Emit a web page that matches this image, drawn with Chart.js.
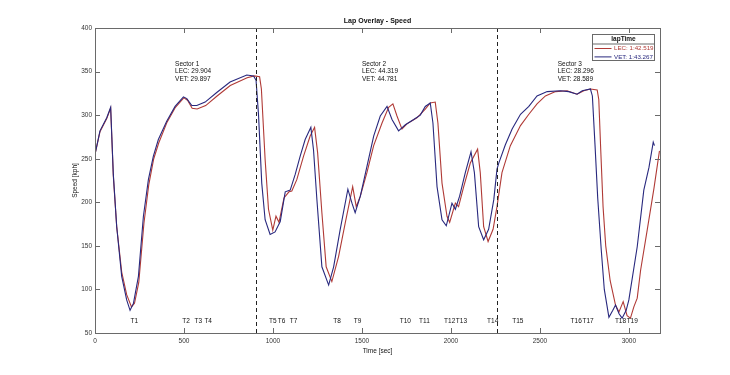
<!DOCTYPE html>
<html>
<head>
<meta charset="UTF-8">
<title>Lap Overlay - Speed</title>
<script src="https://cdn.jsdelivr.net/npm/chart.js"></script>
<style>
  html, body { margin: 0; padding: 0; background: #fff; }
  #wrap { width: 730px; height: 375px; position: relative; }
</style>
</head>
<body>
<div id="wrap"><canvas id="speedChart"></canvas></div>
<script>
// lap distance vs speed
const lecDist = [0, 28, 66, 88, 103, 122, 150, 178, 205, 222, 246, 275, 302, 330, 358, 405, 452, 500, 520, 546, 574, 622, 686, 760, 855, 895, 925,
  935, 956, 975, 999, 1017, 1034, 1062, 1090, 1106, 1134, 1172, 1209, 1234, 1251, 1275, 1299, 1331, 1369, 1406, 1448, 1468, 1491, 1528, 1566,
  1613, 1650, 1674, 1697, 1725, 1753, 1809, 1856, 1884, 1912, 1927, 1950, 1978, 1993, 2025, 2043, 2072, 2109, 2150, 2165, 2184, 2209, 2237,
  2259, 2287, 2334, 2391, 2438, 2484, 2531, 2588, 2653, 2709, 2747, 2784, 2822, 2831, 2842, 2855, 2870, 2895, 2925, 2944, 2968, 2990, 3009,
  3028, 3047, 3066, 3103, 3141, 3172];
const lecSpeed = [255, 281, 296, 308, 230, 172, 120, 94, 80, 84, 108, 176, 220, 250, 268, 292, 309, 320, 317, 308, 307, 311, 322, 334, 343, 345, 344,
  330, 249, 192, 168, 184, 177, 205, 212, 213, 226, 253, 276, 286, 257, 188, 126, 109, 138, 176, 218, 195, 207, 234, 265,
  291, 309, 313, 299, 284, 290, 297, 307, 314, 315, 291, 222, 184, 177, 199, 195, 218, 245, 261, 234, 172, 155, 169,
  195, 234, 265, 288, 301, 313, 322, 327, 328, 324, 328, 330, 329, 318, 260, 195, 150, 110, 82, 74, 86, 70, 67,
  80, 90, 122, 168, 216, 259];
const vetDist = [0, 28, 66, 88, 103, 122, 150, 178, 197, 216, 244, 272, 300, 328, 356, 403, 450, 497, 516, 544, 572, 619, 684, 759, 853, 891, 905,
  919, 937, 956, 984, 1012, 1041, 1069, 1097, 1125, 1153, 1181, 1213, 1228, 1247, 1275, 1313, 1341, 1378, 1421, 1444, 1462, 1491, 1528, 1566,
  1603, 1641, 1669, 1706, 1744, 1791, 1828, 1856, 1884, 1899, 1922, 1950, 1974, 2006, 2025, 2049, 2081, 2113, 2132, 2156, 2184, 2212, 2241,
  2259, 2269, 2306, 2344, 2391, 2438, 2484, 2541, 2616, 2662, 2709, 2738, 2784, 2795, 2810, 2825, 2845, 2862, 2888, 2910, 2925, 2945, 2962,
  2985, 3000, 3047, 3084, 3113, 3137, 3144];
const vetSpeed = [255, 282, 297, 309, 232, 172, 115, 88, 76, 84, 115, 184, 226, 253, 272, 293, 310, 321, 319, 311, 311, 315, 326, 338, 346, 345, 340,
  300, 222, 180, 163, 166, 178, 212, 214, 232, 253, 272, 286, 260, 203, 126, 105, 126, 169, 215, 199, 188, 207, 241, 276,
  299, 310, 295, 282, 289, 295, 300, 310, 314, 291, 218, 180, 173, 199, 192, 207, 234, 258, 234, 172, 157, 169, 203,
  238, 245, 266, 284, 301, 310, 322, 327, 328, 327, 324, 328, 330, 322, 265, 205, 145, 100, 68, 76, 82, 72, 67,
  76, 88, 149, 214, 240, 269, 265];

const drivers = ['LEC: 1:42.519', 'VET: 1:43.267'];
const sectorNames = ['Sector 1', 'Sector 2', 'Sector 3'];
const sectorLEC = ['LEC: 29.904', 'LEC: 44.319', 'LEC: 28.296'];
const sectorVET = ['VET: 29.897', 'VET: 44.781', 'VET: 28.589'];
const sectorTextDist = [450, 1500, 2600];
const sectorBounds = [903, 2258];
const turnNames = ['T1', 'T2', 'T3', 'T4', 'T5', 'T6', 'T7', 'T8', 'T9', 'T10', 'T11', 'T12', 'T13', 'T14', 'T15', 'T16', 'T17', 'T18', 'T19'];
const turnDist = [221, 512, 581, 636, 999, 1048, 1116, 1360, 1476, 1744, 1851, 1993, 2059, 2235, 2376, 2704, 2771, 2953, 3019];
const xTicks = [0, 500, 1000, 1500, 2000, 2500, 3000];
const yTicks = [50, 100, 150, 200, 250, 300, 350, 400];

const FONT = "'Liberation Sans', Arial, sans-serif";
const RED = '#b03a36';
const BLUE = '#28287e';

function toPoints(xs, ys) {
  return xs.map((x, i) => ({ x: x, y: ys[i] }));
}

const overlay = {
  id: 'overlay',
  afterDatasetsDraw(chart) {
    const ctx = chart.ctx;
    const a = chart.chartArea;
    const xs = chart.scales.x, ys = chart.scales.y;
    ctx.save();

    // sector split lines
    ctx.strokeStyle = '#222';
    ctx.lineWidth = 1;
    ctx.setLineDash([4, 3]);
    sectorBounds.forEach(d => {
      const px = Math.round(xs.getPixelForValue(d)) + 0.5;
      ctx.beginPath();
      ctx.moveTo(px, a.top);
      ctx.lineTo(px, a.bottom);
      ctx.stroke();
    });
    ctx.setLineDash([]);

    // axes box with inward ticks
    ctx.strokeStyle = '#6a6a6a';
    ctx.strokeRect(a.left + 0.5, a.top + 0.5, a.right - a.left, a.bottom - a.top);
    ctx.beginPath();
    xTicks.forEach(v => {
      const px = Math.round(xs.getPixelForValue(v)) + 0.5;
      ctx.moveTo(px, a.bottom); ctx.lineTo(px, a.bottom - 5);
      ctx.moveTo(px, a.top); ctx.lineTo(px, a.top + 5);
    });
    yTicks.forEach(v => {
      const py = Math.round(ys.getPixelForValue(v)) + 0.5;
      ctx.moveTo(a.left, py); ctx.lineTo(a.left + 5, py);
      ctx.moveTo(a.right, py); ctx.lineTo(a.right - 5, py);
    });
    ctx.stroke();

    // turn labels
    ctx.fillStyle = '#111';
    ctx.font = '6.5px ' + FONT;
    ctx.textAlign = 'center';
    ctx.textBaseline = 'middle';
    turnNames.forEach((t, i) => {
      ctx.fillText(t, xs.getPixelForValue(turnDist[i]), a.bottom - 12);
    });

    // sector times
    ctx.textAlign = 'left';
    sectorNames.forEach((s, i) => {
      const px = xs.getPixelForValue(sectorTextDist[i]);
      const top = a.top + 36;
      ctx.fillText(s, px, top);
      ctx.fillText(sectorLEC[i], px, top + 7.7);
      ctx.fillText(sectorVET[i], px, top + 15.4);
    });

    // title and axis labels
    const cx = (a.left + a.right) / 2;
    ctx.textAlign = 'center';
    ctx.font = 'bold 7px ' + FONT;
    ctx.fillText('Lap Overlay - Speed', cx, a.top - 7);
    ctx.font = '6.5px ' + FONT;
    ctx.fillText('Time [sec]', cx, a.bottom + 18);
    ctx.save();
    ctx.translate(a.left - 20, (a.top + a.bottom) / 2);
    ctx.rotate(-Math.PI / 2);
    ctx.fillText('Speed [kph]', 0, 0);
    ctx.restore();

    // legend box
    const lx = 592.5, ly = 34.5, lw = 62, lh = 26;
    ctx.fillStyle = '#fff';
    ctx.fillRect(lx, ly, lw, lh);
    ctx.strokeStyle = '#6a6a6a';
    ctx.strokeRect(lx, ly, lw, lh);
    ctx.beginPath();
    ctx.moveTo(lx, ly + 9.5); ctx.lineTo(lx + lw, ly + 9.5);
    ctx.stroke();
    ctx.fillStyle = '#111';
    ctx.font = 'bold 6.5px ' + FONT;
    ctx.fillText('lapTime', lx + lw / 2, ly + 5);
    ctx.font = '6.2px ' + FONT;
    ctx.textAlign = 'left';
    chart.data.datasets.forEach((ds, i) => {
      const yy = ly + 14 + i * 8.4;
      ctx.strokeStyle = ds.borderColor;
      ctx.lineWidth = 1;
      ctx.beginPath();
      ctx.moveTo(lx + 2, yy); ctx.lineTo(lx + 19, yy);
      ctx.stroke();
      ctx.fillStyle = ds.borderColor;
      ctx.fillText(ds.label, lx + 21.5, yy);
    });

    ctx.restore();
  }
};

new Chart(document.getElementById('speedChart'), {
  type: 'line',
  data: {
    datasets: [
      { label: drivers[0], data: toPoints(lecDist, lecSpeed), borderColor: RED, borderWidth: 1.1, pointRadius: 0, order: 1 },
      { label: drivers[1], data: toPoints(vetDist, vetSpeed), borderColor: BLUE, borderWidth: 1.1, pointRadius: 0, order: 0 }
    ]
  },
  options: {
    responsive: true,
    maintainAspectRatio: false,
    animation: false,
    layout: { padding: { left: 0, top: 28, right: 70, bottom: 0 } },
    plugins: { legend: { display: false }, tooltip: { enabled: false } },
    scales: {
      x: {
        type: 'linear', min: 0, max: 3175,
        grid: { display: false, drawTicks: false },
        border: { display: false },
        afterBuildTicks: s => { s.ticks = xTicks.map(v => ({ value: v })); },
        afterFit: s => { s.height = 42; },
        ticks: { padding: 4, maxRotation: 0, color: '#333', font: { family: FONT, size: 6.5 }, callback: v => String(v) }
      },
      y: {
        min: 50, max: 400,
        grid: { display: false, drawTicks: false },
        border: { display: false },
        afterBuildTicks: s => { s.ticks = yTicks.map(v => ({ value: v })); },
        afterFit: s => { s.width = 95; },
        ticks: { padding: 3, color: '#333', font: { family: FONT, size: 6.5 }, callback: v => String(v) }
      }
    }
  },
  plugins: [overlay]
});
</script>
</body>
</html>
